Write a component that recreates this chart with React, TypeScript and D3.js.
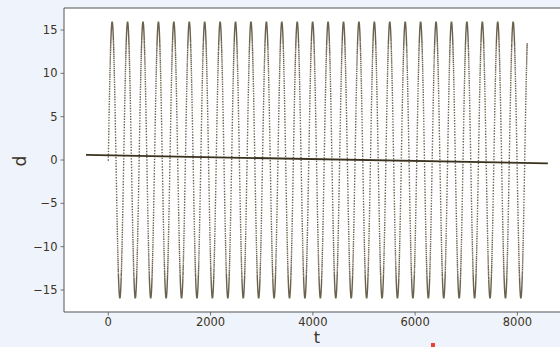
import React from "react";
import * as d3 from "d3";

// ---- data ----
// samples t = 0..T_LAST of a sinusoid d = AMP * sin(t / RATE)
const T_LAST = 8191;
const AMP = 15.9;
const RATE = 48;
const tValues: number[] = d3.range(0, T_LAST + 1);
const dValues: number[] = tValues.map((t) => AMP * Math.sin(t / RATE));

// fitted line endpoints
const lineT: number[] = [-436, 8596];
const lineD: number[] = [0.58, -0.38];

const xTicks: number[] = [0, 2000, 4000, 6000, 8000];
const yTicks: number[] = [-15, -10, -5, 0, 5, 10, 15];

const W = 560;
const H = 347;
const L = 64;
const R = 571;
const T = 8;
const B = 312;

const TEXT = "#3b3324";
const FONT = "DejaVu Sans, sans-serif";

export default function App() {
  const x = d3.scaleLinear().domain([-866, 9048]).range([L, R]);
  const y = d3.scaleLinear().domain([-17.54, 17.54]).range([B, T]);

  const s = 1.4;
  let dotPath = "";
  for (let i = 0; i < tValues.length; i++) {
    const px = x(tValues[i]) - s / 2;
    const py = y(dValues[i]) - s / 2;
    dotPath += `M${px.toFixed(2)},${py.toFixed(2)}h${s}v${s}h${-s}z`;
  }

  const linePath =
    d3
      .line<number>()
      .x((_, i) => x(lineT[i]))
      .y((v) => y(v))(lineD) || "";

  const fmt = (v: number) => (v < 0 ? "\u2212" + Math.abs(v) : String(v));

  return (
    <div style={{ position: "fixed", left: 0, top: 0 }}>
      <svg width={W} height={H} style={{ display: "block" }}>
        <rect x={0} y={0} width={W} height={H} fill="#eff4fc" />
        <rect x={L} y={T} width={R - L} height={B - T} fill="#ffffff" />
        <defs>
          <clipPath id="pa">
            <rect x={L} y={T} width={R - L} height={B - T} />
          </clipPath>
        </defs>
        <g clipPath="url(#pa)">
          <path d={dotPath} fill="#46391f" fillOpacity={0.8} />
          <path d={linePath} stroke="#3a311f" strokeWidth={1.8} fill="none" />
        </g>
        {/* spines */}
        <line x1={L} x2={L} y1={T} y2={B} stroke="#555" strokeWidth={1} />
        <line x1={L} x2={R} y1={T} y2={T} stroke="#555" strokeWidth={1} />
        <line x1={L} x2={R} y1={B} y2={B} stroke="#555" strokeWidth={1} />
        <line x1={R} x2={R} y1={T} y2={B} stroke="#555" strokeWidth={1} />
        {/* x ticks */}
        {xTicks.map((v) => (
          <g key={"x" + v}>
            <line x1={x(v)} x2={x(v)} y1={B} y2={B + 3.5} stroke="#555" strokeWidth={0.8} />
            <text
              x={x(v)}
              y={B + 14}
              textAnchor="middle"
              fontFamily={FONT}
              fontSize={11.5}
              fill={TEXT}
            >
              {fmt(v)}
            </text>
          </g>
        ))}
        {/* y ticks */}
        {yTicks.map((v) => (
          <g key={"y" + v}>
            <line x1={L - 3.5} x2={L} y1={y(v)} y2={y(v)} stroke="#555" strokeWidth={0.8} />
            <text
              x={L - 6.5}
              y={y(v)}
              dy="0.36em"
              textAnchor="end"
              fontFamily={FONT}
              fontSize={11.5}
              fill={TEXT}
            >
              {fmt(v)}
            </text>
          </g>
        ))}
        <text
          x={317}
          y={343}
          textAnchor="middle"
          fontFamily={FONT}
          fontSize={16}
          fill={TEXT}
        >
          t
        </text>
        <text
          transform={`translate(26,${161}) rotate(-90)`}
          textAnchor="middle"
          fontFamily={FONT}
          fontSize={17}
          fill={TEXT}
        >
          d
        </text>
        <rect x={431} y={343} width={4} height={4} fill="#e8472e" />
      </svg>
    </div>
  );
}
